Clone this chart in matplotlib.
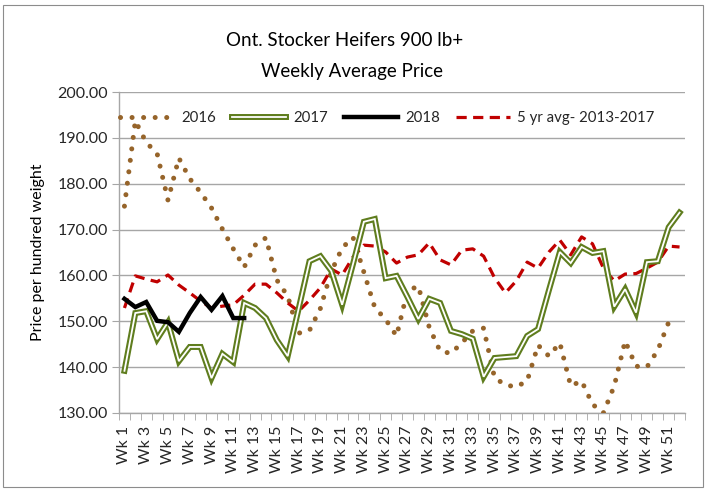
import numpy as np
import matplotlib
matplotlib.use("Agg")
import matplotlib.pyplot as plt
from matplotlib.legend_handler import HandlerTuple
from matplotlib.patches import Rectangle

# --- Data ---
weeks = list(range(1, 53))
week_labels = [f"Wk {w}" for w in weeks]

y2016 = [175.1, 193.7, 189.0, 186.6, 176.4, 185.6, 181.1, 178.1, 174.7, 170.1,
         165.8, 161.8, 166.6, 168.2, 159.0, 155.5, 147.4, 148.0, 152.8, 160.8,
         166.0, 168.3, 160.7, 153.0, 150.4, 146.8, 156.6, 157.7, 148.7, 143.5,
         143.0, 145.3, 147.9, 148.5, 137.7, 136.1, 135.7, 137.0, 144.8, 142.4,
         145.3, 135.9, 137.0, 131.9, 130.0, 135.9, 145.7, 140.2, 140.0, 143.7,
         149.8, np.nan]

y2017 = [139.2, 151.8, 152.2, 146.1, 149.8, 141.3, 144.4, 144.4, 137.6, 142.9,
         141.1, 154.0, 152.9, 150.7, 145.9, 142.4, 152.7, 163.1, 164.2, 161.0,
         153.6, 162.5, 171.7, 172.3, 159.4, 159.9, 155.3, 150.5, 154.9, 154.0,
         147.9, 147.2, 146.2, 137.9, 142.0, 142.2, 142.4, 146.8, 148.3, 156.8,
         165.1, 162.7, 166.2, 164.9, 165.3, 153.2, 157.0, 151.9, 162.9, 163.1,
         170.5, 173.7]

y2018 = [154.9, 153.1, 154.2, 150.1, 149.8, 147.7, 151.8, 155.3, 152.5, 155.5,
         150.7, 150.7]

y5yr = [152.9, 159.9, 159.2, 158.6, 160.1, 157.9, 156.2, 154.4, 152.9, 153.3,
        153.6, 155.7, 158.1, 158.1, 156.2, 154.0, 152.2, 154.6, 157.3, 161.4,
        160.1, 164.0, 166.6, 166.4, 165.1, 162.7, 164.0, 164.5, 167.1, 163.4,
        162.3, 165.5, 165.8, 164.2, 159.5, 156.2, 158.8, 162.9, 161.6, 165.1,
        167.7, 164.5, 168.4, 166.9, 161.6, 158.8, 160.3, 160.4, 161.6, 162.9,
        166.4, 166.2]

plt.rcParams["font.family"] = ["Lato", "DejaVu Sans"]

C2016 = "#96642A"
C2017 = "#5F7D1E"
C5YR = "#C00000"
GRID = "#A6A6A6"
TXT = "#262626"

fig = plt.figure(figsize=(7.13, 4.91), dpi=100)
ax = fig.add_axes([119 / 713, 1 - 413 / 491, 566 / 713, 321 / 491])

# outer chart border
fig.patches.append(Rectangle((3 / 713, 4 / 491), 700 / 713, 482 / 491,
                             transform=fig.transFigure, fill=False,
                             edgecolor="#8C8C8C", lw=0.8))

x = np.array(weeks)

l16, = ax.plot(x[:len(y2016)], y2016, color=C2016, lw=3.6,
               linestyle=(0, (0.01, 2.3)), dash_capstyle="round", zorder=3)
l17a, = ax.plot(x, y2017, color=C2017, lw=4.3, solid_joinstyle="miter",
                zorder=4)
l17b, = ax.plot(x, y2017, color="white", lw=1.3, solid_joinstyle="miter",
                zorder=5)
l18, = ax.plot(x[:len(y2018)], y2018, color="black", lw=3.2, zorder=6,
               solid_joinstyle="miter")
l5, = ax.plot(x, y5yr, color=C5YR, lw=2.3, linestyle=(0, (3.2, 2.0)),
              zorder=3)

ax.set_xlim(0.5, 52.5)
ax.set_ylim(130, 200)
ax.set_yticks(np.arange(130, 201, 10))
ax.set_yticklabels([f"{v:.2f}" for v in np.arange(130, 201, 10)])
ax.yaxis.grid(True, color=GRID, lw=1.0)
ax.set_axisbelow(True)

ax.set_xticks(x[::2])
ax.set_xticklabels(week_labels[::2], rotation=90)
ax.set_xticks(np.arange(0.5, 53, 1), minor=True)
ax.tick_params(axis="x", which="major", length=0, pad=9, labelsize=11.5,
               labelcolor=TXT)
ax.tick_params(axis="x", which="minor", length=5, color=GRID, direction="out")
ax.tick_params(axis="y", length=5, color=GRID, labelsize=11.5, labelcolor=TXT,
               pad=3)

for s in ("top", "right"):
    ax.spines[s].set_visible(False)
for s in ("left", "bottom"):
    ax.spines[s].set_color(GRID)
    ax.spines[s].set_linewidth(1.0)

ax.set_ylabel("Price per hundred weight", fontsize=11.5, color="black",
              labelpad=9)

fig.text(345 / 713, 1 - 40 / 491, "Ont. Stocker Heifers 900 lb+",
         ha="center", va="center", fontsize=13.5, color="black")
fig.text(352 / 713, 1 - 72 / 491, "Weekly Average Price",
         ha="center", va="center", fontsize=13.5, color="black")

ax.legend([l16, (l17a, l17b), l18, l5],
          ["2016", "2017", "2018", "5 yr avg- 2013-2017"],
          handler_map={tuple: HandlerTuple(ndivide=1)},
          ncol=4, frameon=False, loc="center left",
          bbox_to_anchor=(0.002, 0.919), borderaxespad=0, borderpad=0,
          fontsize=10.8, handlelength=3.6, handletextpad=0.45,
          columnspacing=1.1, labelcolor=TXT)

fig.savefig("out.png", dpi=100)
